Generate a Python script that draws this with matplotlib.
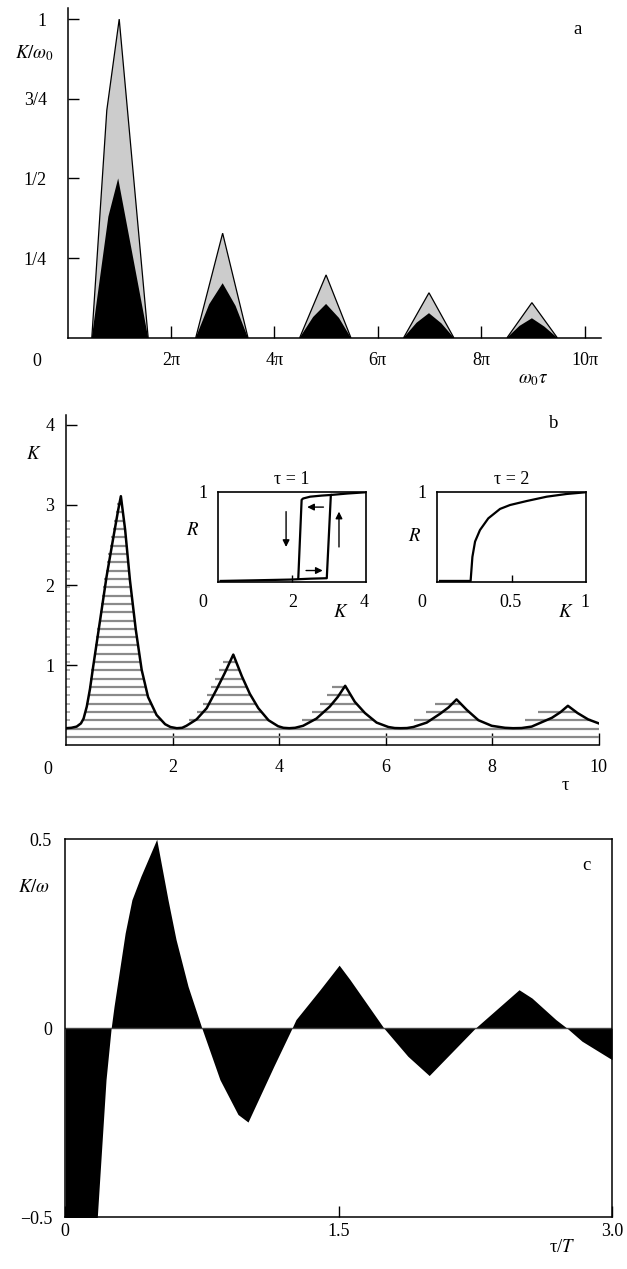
import matplotlib
matplotlib.use("Agg")
import matplotlib.pyplot as plt
import numpy as np

plt.rcParams['font.family'] = ['Liberation Serif', 'DejaVu Serif']
plt.rcParams['mathtext.fontset'] = 'stix'

# (a) peaks of K/omega0 versus omega0*tau, x in units of pi
a_gray_x = [[0.47, 0.76, 1.00, 1.56],
            [2.48, 3.00, 3.49],
            [4.49, 5.00, 5.48],
            [6.50, 6.99, 7.47],
            [8.50, 8.98, 9.47]]
a_gray_y = [[0, 0.714, 1.0, 0],
            [0, 0.328, 0],
            [0, 0.197, 0],
            [0, 0.141, 0],
            [0, 0.110, 0]]
a_black_x = [[0.47, 0.63, 0.79, 0.98, 1.27, 1.56],
             [2.48, 2.74, 3.00, 3.25, 3.49],
             [4.49, 4.75, 5.00, 5.25, 5.48],
             [6.50, 6.75, 6.99, 7.23, 7.47],
             [8.50, 8.74, 8.98, 9.22, 9.47]]
a_black_y = [[0, 0.19, 0.38, 0.50, 0.25, 0],
             [0, 0.105, 0.171, 0.100, 0],
             [0, 0.065, 0.106, 0.062, 0],
             [0, 0.047, 0.077, 0.045, 0],
             [0, 0.037, 0.061, 0.035, 0]]
a_xticks = [2, 4, 6, 8, 10]
a_xlabels = ['2π', '4π', '6π', '8π', '10π']
a_yticks = [0.25, 0.5, 0.75, 1.0]
a_ylabels = ['1/4', '1/2', '3/4', '1']

# (b) K(tau)
tau_b = [0.0, 0.1, 0.2, 0.28, 0.33, 0.39, 0.45, 0.51, 0.64, 0.76, 0.89, 0.98, 1.03,
         1.11, 1.2, 1.31, 1.42, 1.54, 1.7, 1.86, 1.96, 2.08, 2.18, 2.26, 2.45, 2.64,
         2.83, 2.98, 3.14, 3.3, 3.45, 3.61, 3.8, 3.98, 4.08, 4.19, 4.3, 4.45, 4.7,
         4.95, 5.1, 5.24, 5.42, 5.61, 5.83, 6.05, 6.17, 6.28, 6.4, 6.52, 6.77, 7.02,
         7.18, 7.33, 7.52, 7.74, 7.99, 8.24, 8.39, 8.55, 8.74, 9.12, 9.28, 9.42, 9.6,
         9.8, 10.0]
k_b = [0.21, 0.215, 0.23, 0.27, 0.33, 0.48, 0.7, 0.98, 1.56, 2.1, 2.6, 2.94, 3.11,
       2.69, 2.06, 1.44, 0.94, 0.6, 0.375, 0.26, 0.225, 0.21, 0.215, 0.24, 0.32, 0.46,
       0.7, 0.9, 1.13, 0.86, 0.64, 0.46, 0.31, 0.235, 0.215, 0.21, 0.215, 0.24, 0.33,
       0.48, 0.6, 0.74, 0.54, 0.4, 0.28, 0.225, 0.212, 0.21, 0.212, 0.225, 0.28, 0.39,
       0.47, 0.57, 0.44, 0.31, 0.24, 0.215, 0.21, 0.212, 0.23, 0.34, 0.41, 0.49, 0.40,
       0.32, 0.27]
b_xticks = [2, 4, 6, 8, 10]
b_yticks = [1, 2, 3, 4]

# insets: R(K) for tau = 1 (hysteresis) and tau = 2
ins1_up_k = [0.07, 1.0, 1.95, 2.5, 2.94, 3.05, 3.5, 3.97]
ins1_up_r = [0.015, 0.022, 0.03, 0.04, 0.045, 0.964, 0.98, 0.993]
ins1_down_k = [3.05, 2.8, 2.49, 2.3, 2.26, 2.17]
ins1_down_r = [0.964, 0.957, 0.945, 0.925, 0.91, 0.045]
ins1_arrow_tail = [(1.84, 0.78), (3.27, 0.39), (2.85, 0.83), (2.38, 0.13)]
ins1_arrow_head = [(1.84, 0.39), (3.27, 0.78), (2.41, 0.83), (2.83, 0.13)]
ins2_k = [0.018, 0.224, 0.236, 0.254, 0.287, 0.343, 0.422, 0.489, 0.601, 0.736, 0.87, 0.993]
ins2_r = [0.015, 0.015, 0.28, 0.45, 0.577, 0.706, 0.81, 0.853, 0.897, 0.945, 0.975, 0.993]

# (c) K/omega versus tau/T
tc = [0.0, 0.176, 0.224, 0.252, 0.268, 0.329, 0.366, 0.415, 0.502, 0.564, 0.608,
      0.674, 0.75, 0.849, 0.948, 1.003, 1.145, 1.244, 1.266, 1.398, 1.503, 1.562,
      1.749, 1.88, 1.997, 2.249, 2.49, 2.561, 2.692, 2.754, 2.835, 3.0]
kc = [-1.0, -0.5, -0.136, 0.0, 0.058, 0.252, 0.34, 0.402, 0.5, 0.34, 0.235,
      0.111, 0.0, -0.136, -0.228, -0.248, -0.1, 0.0, 0.023, 0.102, 0.167, 0.129,
      0.0, -0.074, -0.125, 0.0, 0.102, 0.08, 0.023, 0.0, -0.034, -0.083]
c_xticks = [0, 1.5, 3.0]
c_xlabels = ['0', '1.5', '3.0']
c_yticks = [-0.5, 0, 0.5]
c_ylabels = ['\u22120.5', '0', '0.5']

W, H = 627, 1269
FS = 13
fig = plt.figure(figsize=(W / 100, H / 100), dpi=100)


def px_axes(left, top, right, bottom):
    return fig.add_axes([left / W, 1 - bottom / H, (right - left) / W, (bottom - top) / H])


def ftxt(x, y, s, size=FS, **kw):
    fig.text(x / W, 1 - y / H, s, ha='center', va='center', fontsize=size, **kw)


def open_axes(ax):
    for side in ('top', 'right'):
        ax.spines[side].set_visible(False)
    for side in ('left', 'bottom'):
        ax.spines[side].set_linewidth(1.1)


# ---- panel a ----
ax_a = px_axes(67.5, 8.3, 601.2, 337.7)
open_axes(ax_a)
for gx, gy in zip(a_gray_x, a_gray_y):
    ax_a.fill(gx, gy, facecolor='#cccccc', edgecolor='k', lw=0.9)
for bx, by in zip(a_black_x, a_black_y):
    ax_a.fill(bx, by, facecolor='k', edgecolor='none')
ax_a.set_xlim(0, 10.32)
ax_a.set_ylim(0, 1.034)
ax_a.set_xticks(a_xticks, a_xlabels)
ax_a.set_yticks(a_yticks, a_ylabels)
ax_a.tick_params(axis='x', direction='in', length=9, width=1, pad=10, labelsize=FS)
ax_a.tick_params(axis='y', direction='in', length=7.8, width=1, pad=15, labelsize=FS)
ftxt(37, 361, '0')
ftxt(34, 53, r'$K/\omega_0$', size=13.5)
ftxt(533, 380, r'$\omega_0\tau$', size=13.5)
ftxt(578, 30, 'a', size=13.5)

# ---- panel b ----
ax_b = px_axes(66, 415, 598.8, 745)
open_axes(ax_b)
tg = np.linspace(0, 10, 4001)
k_hatch = np.max([np.interp(tg * s, tau_b, k_b) for s in np.linspace(1.0, 1.047, 10)], axis=0)
levels = np.arange(0.1, 3.15, 0.104)
for lev in levels:
    mask = (k_hatch > lev).astype(int)
    d = np.diff(np.concatenate([[0], mask, [0]]))
    starts = np.where(d == 1)[0]
    ends = np.where(d == -1)[0] - 1
    ax_b.hlines(np.full(len(starts), lev), tg[starts], tg[ends], color='#8a8a8a', lw=1.6)
    if 0.25 < lev < 2.85:
        ax_b.hlines(lev, 0, 0.07, color='#a0a0a0', lw=1.2)
ax_b.plot(tau_b, k_b, color='k', lw=1.8)
ax_b.set_xlim(0, 10)
ax_b.set_ylim(0, 4.125)
ax_b.set_xticks(b_xticks, [str(v) for v in b_xticks])
ax_b.set_yticks(b_yticks, [str(v) for v in b_yticks])
ax_b.tick_params(axis='x', direction='in', length=9, width=1, pad=10, labelsize=FS)
ax_b.tick_params(axis='y', direction='in', length=7.8, width=1, pad=8.5, labelsize=FS)
ftxt(48, 769, '0')
ftxt(34, 454, r'$K$', size=13.5)
ftxt(554, 424, 'b', size=13.5)
ftxt(565, 786, 'τ', size=13.5)

# inset tau = 1
ax_i1 = px_axes(218, 491.7, 366, 582.3)
ax_i1.plot(ins1_up_k, ins1_up_r, color='k', lw=1.6)
ax_i1.plot(ins1_down_k, ins1_down_r, color='k', lw=1.6)
for tail, head in zip(ins1_arrow_tail, ins1_arrow_head):
    ax_i1.annotate('', xy=head, xytext=tail,
                   arrowprops=dict(arrowstyle='-|>', color='k', lw=1.0,
                                   mutation_scale=10, shrinkA=0, shrinkB=0))
ax_i1.set_xlim(0, 4)
ax_i1.set_ylim(0, 1)
ax_i1.set_xticks([2], [''])
ax_i1.set_yticks([])
ax_i1.tick_params(direction='in', length=5, width=1)
for sp in ax_i1.spines.values():
    sp.set_linewidth(1.2)
ftxt(291.7, 479.3, 'τ = 1')
ftxt(202.7, 493.3, '1')
ftxt(192.7, 530.7, r'$R$', size=13.5)
ftxt(202.7, 602.3, '0')
ftxt(292.7, 602.3, '2')
ftxt(364.3, 602.3, '4')
ftxt(340.7, 612.7, r'$K$', size=13.5)

# inset tau = 2
ax_i2 = px_axes(437.3, 491.7, 586, 582.3)
ax_i2.plot(ins2_k, ins2_r, color='k', lw=1.6)
ax_i2.set_xlim(0, 1)
ax_i2.set_ylim(0, 1)
ax_i2.set_xticks([0.5], [''])
ax_i2.set_yticks([])
ax_i2.tick_params(direction='in', length=5, width=1)
for sp in ax_i2.spines.values():
    sp.set_linewidth(1.2)
ftxt(511.7, 479.3, 'τ = 2')
ftxt(421.7, 493.3, '1')
ftxt(415, 536.7, r'$R$', size=13.5)
ftxt(421.7, 602.3, '0')
ftxt(510.7, 602.3, '0.5')
ftxt(585, 602.3, '1')
ftxt(566, 612.7, r'$K$', size=13.5)

# ---- panel c ----
ax_c = px_axes(65.2, 839.3, 612, 1217.3)
ax_c.fill_between(tc, kc, 0, color='k', lw=0)
ax_c.axhline(0, color='#444444', lw=1.0)
ax_c.set_xlim(0, 3)
ax_c.set_ylim(-0.5, 0.5)
ax_c.set_xticks(c_xticks, c_xlabels)
ax_c.set_yticks(c_yticks, c_ylabels)
ax_c.tick_params(axis='x', direction='in', length=8, width=1, pad=4, labelsize=FS)
ax_c.tick_params(axis='y', length=0, pad=9.5, labelsize=FS)
for sp in ax_c.spines.values():
    sp.set_linewidth(1.1)
ftxt(34, 888, r'$K/\omega$', size=13.5)
ftxt(586, 865, 'c', size=13.5)
ftxt(562, 1248, 'τ/$T$', size=13.5)

fig.savefig('out.png', dpi=100)
